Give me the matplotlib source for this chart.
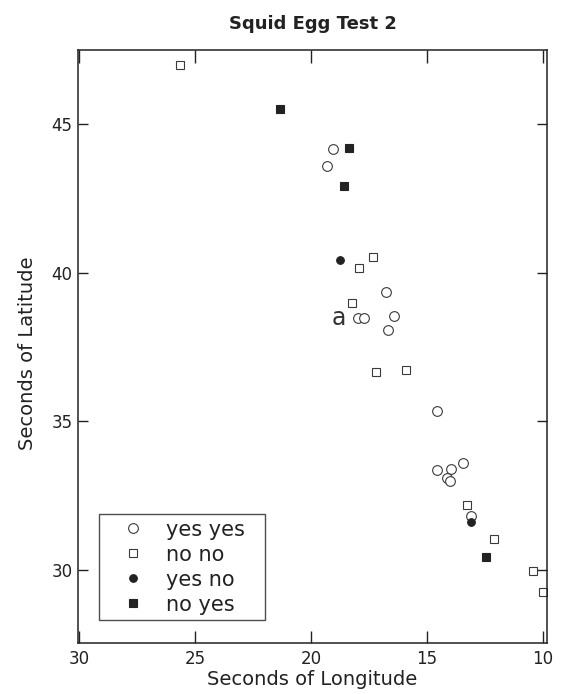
import numpy as np
import matplotlib.pyplot as plt

plt.rcParams['font.family'] = ['DejaVu Sans']

# squid egg survey positions (seconds of longitude / latitude)
yes_yes_lon = [19.05, 19.31, 16.77, 17.97, 17.72, 16.42, 16.68, 14.57, 14.57, 13.97, 13.45, 14.14, 14.01, 13.10]
yes_yes_lat = [44.15, 43.58, 39.37, 38.47, 38.47, 38.56, 38.09, 35.34, 33.35, 33.38, 33.61, 33.08, 32.98, 31.82]

no_no_lon = [25.65, 17.93, 17.33, 18.23, 17.20, 15.91, 13.28, 12.11, 10.43, 10.00]
no_no_lat = [47.01, 40.16, 40.52, 38.98, 36.65, 36.74, 32.19, 31.04, 29.97, 29.26]

yes_no_lon = [18.75, 13.10]
yes_no_lat = [40.44, 31.62]

no_yes_lon = [21.34, 18.36, 18.58, 12.46]
no_yes_lat = [45.52, 44.21, 42.93, 30.43]

xticks = [30, 25, 20, 15, 10]
yticks = [30, 35, 40, 45]

ink = '#222222'
edge = '#3a3a3a'

fig = plt.figure(figsize=(5.65, 6.94), dpi=100)
ax = fig.add_axes([0.138, 0.0735, 0.830, 0.8545])

ax.plot(yes_yes_lon, yes_yes_lat, 'o', ms=7, mfc='white', mec=edge, mew=0.8, ls='none', label='yes yes')
ax.plot(no_no_lon, no_no_lat, 's', ms=5.8, mfc='white', mec=edge, mew=0.8, ls='none', label='no no')
ax.plot(yes_no_lon, yes_no_lat, 'o', ms=5.5, mfc=ink, mec=ink, mew=0.8, ls='none', label='yes no')
ax.plot(no_yes_lon, no_yes_lat, 's', ms=5.6, mfc=ink, mec=ink, mew=0.8, ls='none', label='no yes')

# site marker
ax.text(18.79, 38.47, 'a', fontsize=17, color='#333333', ha='center', va='center')

ax.set_xlim(30.04, 9.83)
ax.set_ylim(27.54, 47.5)
ax.set_xticks(xticks)
ax.set_yticks(yticks)

for s in ax.spines.values():
    s.set_linewidth(1.1)
    s.set_color(ink)

ax.tick_params(axis='x', direction='in', top=True, length=9, width=1, pad=5,
               labelsize=12, colors=ink)
ax.tick_params(axis='y', direction='in', right=True, length=7, width=1, pad=4,
               labelsize=12, colors=ink)

ax.set_title('Squid Egg Test 2', fontsize=13, fontweight='bold', color=ink, pad=15)
ax.set_xlabel('Seconds of Longitude', fontsize=14, color=ink)
ax.set_ylabel('Seconds of Latitude', fontsize=14, color=ink)
ax.xaxis.set_label_coords(0.5, -0.046)
ax.yaxis.set_label_coords(-0.0874, 0.489)

leg = ax.legend(loc='lower left', bbox_to_anchor=(0.0448, 0.0388, 0.354, 0.2), mode='expand',
                borderaxespad=0, fontsize=15, fancybox=False, frameon=True,
                borderpad=0.26, labelspacing=0.24, handlelength=2.75, handletextpad=0.21,
                numpoints=1)
leg.get_frame().set_edgecolor(ink)
leg.get_frame().set_linewidth(1.0)
for t in leg.get_texts():
    t.set_color(ink)

plt.savefig('out.png', dpi=100)
